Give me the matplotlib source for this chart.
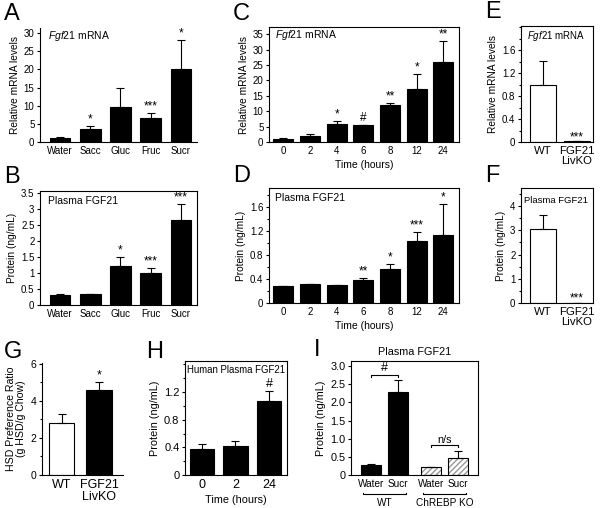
import matplotlib
matplotlib.use("Agg")
import matplotlib.pyplot as plt
from matplotlib.ticker import MultipleLocator
import matplotlib.transforms as mtrans

plt.rcParams['font.family'] = ['Liberation Sans', 'DejaVu Sans']
plt.rcParams['mathtext.fontset'] = 'custom'
plt.rcParams['mathtext.it'] = 'Liberation Sans:italic'
plt.rcParams['mathtext.rm'] = 'Liberation Sans'
plt.rcParams['axes.linewidth'] = 0.8
plt.rcParams['xtick.major.width'] = 0.8
plt.rcParams['ytick.major.width'] = 0.8
plt.rcParams['ytick.minor.width'] = 0.8

# ---------------- data ----------------
a_cats = ["Water", "Sacc", "Gluc", "Fruc", "Sucr"]
a_vals = [1.0, 3.5, 9.7, 6.7, 20.2]
a_err = [0.3, 0.9, 5.2, 1.3, 7.9]
a_sig = ["", "*", "", "***", "*"]

b_cats = ["Water", "Sacc", "Gluc", "Fruc", "Sucr"]
b_vals = [0.32, 0.34, 1.21, 1.0, 2.64]
b_err = [0.01, 0.01, 0.27, 0.16, 0.52]
b_sig = ["", "", "*", "***", "***"]

c_times = ["0", "2", "4", "6", "8", "12", "24"]
c_vals = [1.1, 2.0, 6.0, 5.4, 12.0, 17.1, 25.9]
c_err = [0.3, 0.5, 0.7, 0.1, 0.7, 4.9, 6.9]
c_sig = ["", "", "*", "#", "**", "*", "**"]

d_times = ["0", "2", "4", "6", "8", "12", "24"]
d_vals = [0.28, 0.31, 0.295, 0.39, 0.56, 1.03, 1.14]
d_err = [0.005, 0.01, 0.005, 0.03, 0.09, 0.15, 0.52]
d_sig = ["", "", "", "**", "*", "***", "*"]

e_cats = ["WT", "FGF21\nLivKO"]
e_vals = [0.99, 0.01]
e_err = [0.42, 0.0]
e_sig = ["", "***"]

f_cats = ["WT", "FGF21\nLivKO"]
f_vals = [3.07, 0.02]
f_err = [0.58, 0.0]
f_sig = ["", "***"]

g_cats = ["WT", "FGF21\nLivKO"]
g_vals = [2.82, 4.6]
g_err = [0.48, 0.4]
g_sig = ["", "*"]

h_times = ["0", "2", "24"]
h_vals = [0.375, 0.42, 1.07]
h_err = [0.075, 0.07, 0.14]
h_sig = ["", "", "#"]

i_cats = ["Water", "Sucr", "Water", "Sucr"]
i_vals = [0.27, 2.29, 0.22, 0.48]
i_err = [0.03, 0.32, 0.0, 0.17]
i_groups = ["WT", "ChREBP KO"]

FS = 7.0
W, H = 600, 508
fig = plt.figure(figsize=(6.0, 5.08), dpi=100)


def add_ax(x0, x1, ytop, ybot):
    return fig.add_axes([x0 / W, 1 - ybot / H, (x1 - x0) / W, (ybot - ytop) / H])


def style(ax, box=True):
    if not box:
        ax.spines['top'].set_visible(False)
        ax.spines['right'].set_visible(False)
    ax.tick_params(axis='both', which='major', direction='out', length=2.5,
                   labelsize=FS, pad=1.5)
    ax.tick_params(axis='y', which='minor', direction='out', length=1.5)
    ax.tick_params(axis='x', length=0, pad=3)


def bars(ax, x, vals, err, sig, width, face='black', capw=3.0, sigfs=8.5, sigoff=None):
    ax.bar(x, vals, width=width, color=face, edgecolor='black', linewidth=0.8, zorder=2)
    ax.errorbar(x, vals, yerr=[[0] * len(vals), err], fmt='none', ecolor='black',
                elinewidth=0.8, capsize=capw, capthick=0.8, zorder=3)
    ylim = ax.get_ylim()[1]
    off = sigoff if sigoff is not None else ylim * 0.005
    for xi, v, e, s in zip(x, vals, err, sig):
        if s:
            ax.text(xi, v + e + off, s, ha='center', va='bottom', fontsize=sigfs)


def letter(txt, x, y):
    fig.text(x / W, 1 - y / H, txt, fontsize=17, ha='left', va='center')


# ---- Panel A ----
ax = add_ax(40, 197, 28, 142)
ax.set_ylim(0, 31.4)
ax.set_xlim(-0.66, 4.53)
style(ax, box=False)
ax.yaxis.set_major_locator(MultipleLocator(5))
xs = list(range(len(a_cats)))
bars(ax, xs, a_vals, a_err, a_sig, 0.68)
ax.set_xticks(xs)
ax.set_xticklabels(a_cats)
ax.set_ylabel("Relative mRNA levels", fontsize=FS + 0.3, labelpad=3)
ax.text(0.05, 0.93, r"$\mathit{Fgf21}$ mRNA", transform=ax.transAxes, fontsize=FS + 0.5,
        ha='left', va='center')
letter("A", 4, 14)

# ---- Panel B ----
ax = add_ax(40, 197, 191, 305)
ax.set_ylim(0, 3.55)
ax.set_xlim(-0.66, 4.53)
style(ax)
ax.set_yticks([0, 0.5, 1, 1.5, 2, 2.5, 3, 3.5])
ax.set_yticklabels(["0", "0.5", "1", "1.5", "2", "2.5", "3", "3.5"])
xs = list(range(len(b_cats)))
bars(ax, xs, b_vals, b_err, b_sig, 0.68)
ax.set_xticks(xs)
ax.set_xticklabels(b_cats)
ax.set_ylabel("Protein (ng/mL)", fontsize=FS + 0.3, labelpad=3)
ax.text(0.05, 0.91, "Plasma FGF21", transform=ax.transAxes, fontsize=FS + 0.5,
        ha='left', va='center')
letter("B", 4, 177)

# ---- Panel C ----
ax = add_ax(269, 459, 27, 142)
ax.set_ylim(0, 37.3)
ax.set_xlim(-0.54, 6.59)
style(ax)
ax.yaxis.set_major_locator(MultipleLocator(5))
xs = list(range(len(c_times)))
bars(ax, xs, c_vals, c_err, c_sig, 0.75)
ax.set_xticks(xs)
ax.set_xticklabels(c_times)
ax.set_xlabel("Time (hours)", fontsize=FS + 0.5, labelpad=3)
ax.set_ylabel("Relative mRNA levels", fontsize=FS + 0.3, labelpad=3)
ax.text(0.03, 0.93, r"$\mathit{Fgf21}$ mRNA", transform=ax.transAxes, fontsize=FS + 0.5,
        ha='left', va='center')
letter("C", 233, 14)

# ---- Panel D ----
ax = add_ax(269, 459, 188, 303)
ax.set_ylim(0, 1.92)
ax.set_xlim(-0.54, 6.59)
style(ax)
ax.set_yticks([0, 0.4, 0.8, 1.2, 1.6])
ax.set_yticklabels(["0", "0.4", "0.8", "1.2", "1.6"])
ax.yaxis.set_minor_locator(MultipleLocator(0.2))
xs = list(range(len(d_times)))
bars(ax, xs, d_vals, d_err, d_sig, 0.75)
ax.set_xticks(xs)
ax.set_xticklabels(d_times)
ax.set_xlabel("Time (hours)", fontsize=FS + 0.5, labelpad=3)
ax.set_ylabel("Protein (ng/mL)", fontsize=FS + 0.3, labelpad=3)
ax.text(0.03, 0.91, "Plasma FGF21", transform=ax.transAxes, fontsize=FS + 0.5,
        ha='left', va='center')
letter("D", 233, 176)

# ---- Panel E ----
ax = add_ax(521, 593, 26, 142)
ax.set_ylim(0, 2.02)
ax.set_xlim(-0.65, 1.47)
style(ax)
ax.set_yticks([0, 0.4, 0.8, 1.2, 1.6])
ax.set_yticklabels(["0", "0.4", "0.8", "1.2", "1.6"])
ax.yaxis.set_minor_locator(MultipleLocator(0.2))
bars(ax, [0, 1], e_vals, e_err, e_sig, 0.76, face='white', sigoff=-0.03)
ax.set_xticks([0, 1])
ax.set_xticklabels(e_cats, fontsize=FS + 1.2, linespacing=1.0)
ax.set_ylabel("Relative mRNA levels", fontsize=FS + 0.3, labelpad=3)
ax.text(0.08, 0.91, r"$\mathit{Fgf21}$ mRNA", transform=ax.transAxes, fontsize=FS,
        ha='left', va='center')
letter("E", 485, 12)

# ---- Panel F ----
ax = add_ax(521, 593, 188, 303)
ax.set_ylim(0, 4.75)
ax.set_xlim(-0.65, 1.47)
style(ax)
ax.yaxis.set_major_locator(MultipleLocator(1))
ax.yaxis.set_minor_locator(MultipleLocator(0.5))
bars(ax, [0, 1], f_vals, f_err, f_sig, 0.76, face='white', sigoff=-0.07)
ax.set_xticks([0, 1])
ax.set_xticklabels(f_cats, fontsize=FS + 1.2, linespacing=1.0)
ax.set_ylabel("Protein (ng/mL)", fontsize=FS + 0.3, labelpad=3)
ax.text(0.04, 0.89, "Plasma FGF21", transform=ax.transAxes, fontsize=FS - 0.2,
        ha='left', va='center')
letter("F", 485, 176)

# ---- Panel G ----
ax = add_ax(42, 123, 363, 475)
ax.set_ylim(0, 6.05)
ax.set_xlim(-0.52, 1.64)
style(ax, box=False)
ax.yaxis.set_major_locator(MultipleLocator(2))
ax.yaxis.set_minor_locator(MultipleLocator(1))
ax.tick_params(axis='y', labelsize=FS + 0.5)
ax.bar(0, g_vals[0], width=0.67, color='white', edgecolor='black', linewidth=0.8, zorder=2)
ax.bar(1, g_vals[1], width=0.67, color='black', edgecolor='black', linewidth=0.8, zorder=2)
ax.errorbar([0, 1], g_vals, yerr=[[0, 0], g_err], fmt='none', ecolor='black',
            elinewidth=0.8, capsize=3, capthick=0.8, zorder=3)
for xi, v, e, s in zip([0, 1], g_vals, g_err, g_sig):
    if s:
        ax.text(xi, v + e + 0.03, s, ha='center', va='bottom', fontsize=9)
ax.set_xticks([0, 1])
ax.set_xticklabels(g_cats, fontsize=FS + 2.0, linespacing=1.0)
ax.set_ylabel("HSD Preference Ratio\n(g HSD/g Chow)", fontsize=FS + 0.6, labelpad=3,
              linespacing=1.0)
letter("G", 4, 352)

# ---- Panel H ----
ax = add_ax(185, 287, 361, 475)
ax.set_ylim(0, 1.65)
ax.set_xlim(-0.51, 2.54)
style(ax)
ax.set_yticks([0, 0.4, 0.8, 1.2])
ax.set_yticklabels(["0", "0.4", "0.8", "1.2"])
ax.yaxis.set_minor_locator(MultipleLocator(0.2))
xs = list(range(len(h_times)))
bars(ax, xs, h_vals, h_err, h_sig, 0.72, capw=3.2, sigfs=9, sigoff=0.02)
ax.set_xticks(xs)
ax.set_xticklabels(h_times, fontsize=FS + 2.0)
ax.set_xlabel("Time (hours)", fontsize=FS + 0.8, labelpad=3)
ax.set_ylabel("Protein (ng/mL)", fontsize=FS + 0.8, labelpad=3)
ax.tick_params(axis='y', labelsize=FS + 1.0)
ax.text(0.02, 0.92, "Human Plasma FGF21", transform=ax.transAxes, fontsize=FS - 0.1,
        ha='left', va='center')
letter("H", 146, 352)

# ---- Panel I ----
ax = add_ax(351, 478, 361, 475)
ax.set_ylim(0, 3.14)
ax.set_xlim(-0.74, 3.96)
style(ax)
ax.set_yticks([0, 0.5, 1.0, 1.5, 2.0, 2.5, 3.0])
ax.set_yticklabels(["0", "0.5", "1.0", "1.5", "2.0", "2.5", "3.0"])
ix = [0, 1, 2.22, 3.22]
ax.bar(ix[:2], i_vals[:2], width=0.74, color='black', edgecolor='black', linewidth=0.8, zorder=2)
ax.bar(ix[2:], i_vals[2:], width=0.74, color='white', edgecolor='#999999', hatch='//////',
       linewidth=0, zorder=2)
ax.bar(ix[2:], i_vals[2:], width=0.74, color='none', edgecolor='black', linewidth=0.8, zorder=2.5)
ax.errorbar(ix, i_vals, yerr=[[0] * 4, i_err], fmt='none', ecolor='black',
            elinewidth=0.8, capsize=3, capthick=0.8, zorder=3)
# brackets
for (xa, xb), yb, lab, lfs in [((ix[0], ix[1]), 2.75, "#", 9), ((ix[2], ix[3]), 0.82, "n/s", FS + 0.8)]:
    ax.plot([xa, xa, xb, xb], [yb - 0.06, yb, yb, yb - 0.06], color='black', lw=0.8)
    ax.text((xa + xb) / 2, yb + 0.02, lab, ha='center', va='bottom', fontsize=lfs)
ax.set_xticks(ix)
ax.set_xticklabels(i_cats, fontsize=FS + 0.2)
ax.set_ylabel("Protein (ng/mL)", fontsize=FS + 0.8, labelpad=3)
ax.tick_params(axis='y', labelsize=FS + 0.8)
ax.set_title("Plasma FGF21", fontsize=FS + 0.8, pad=4)
trans = mtrans.blended_transform_factory(ax.transData, ax.transAxes)
for (xa, xb), g in zip([(ix[0], ix[1]), (ix[2], ix[3])], i_groups):
    xa_ = xa - 0.3
    xb_ = xb + 0.3
    ax.plot([xa_, xa_, xb_, xb_], [-0.155, -0.167, -0.167, -0.155], color='black', lw=0.8,
            transform=trans, clip_on=False)
    ax.text((xa + xb) / 2, -0.2, g, ha='center', va='top', fontsize=FS + 0.2,
            transform=trans)
letter("I", 314, 350)

fig.savefig("out.png", dpi=100)
